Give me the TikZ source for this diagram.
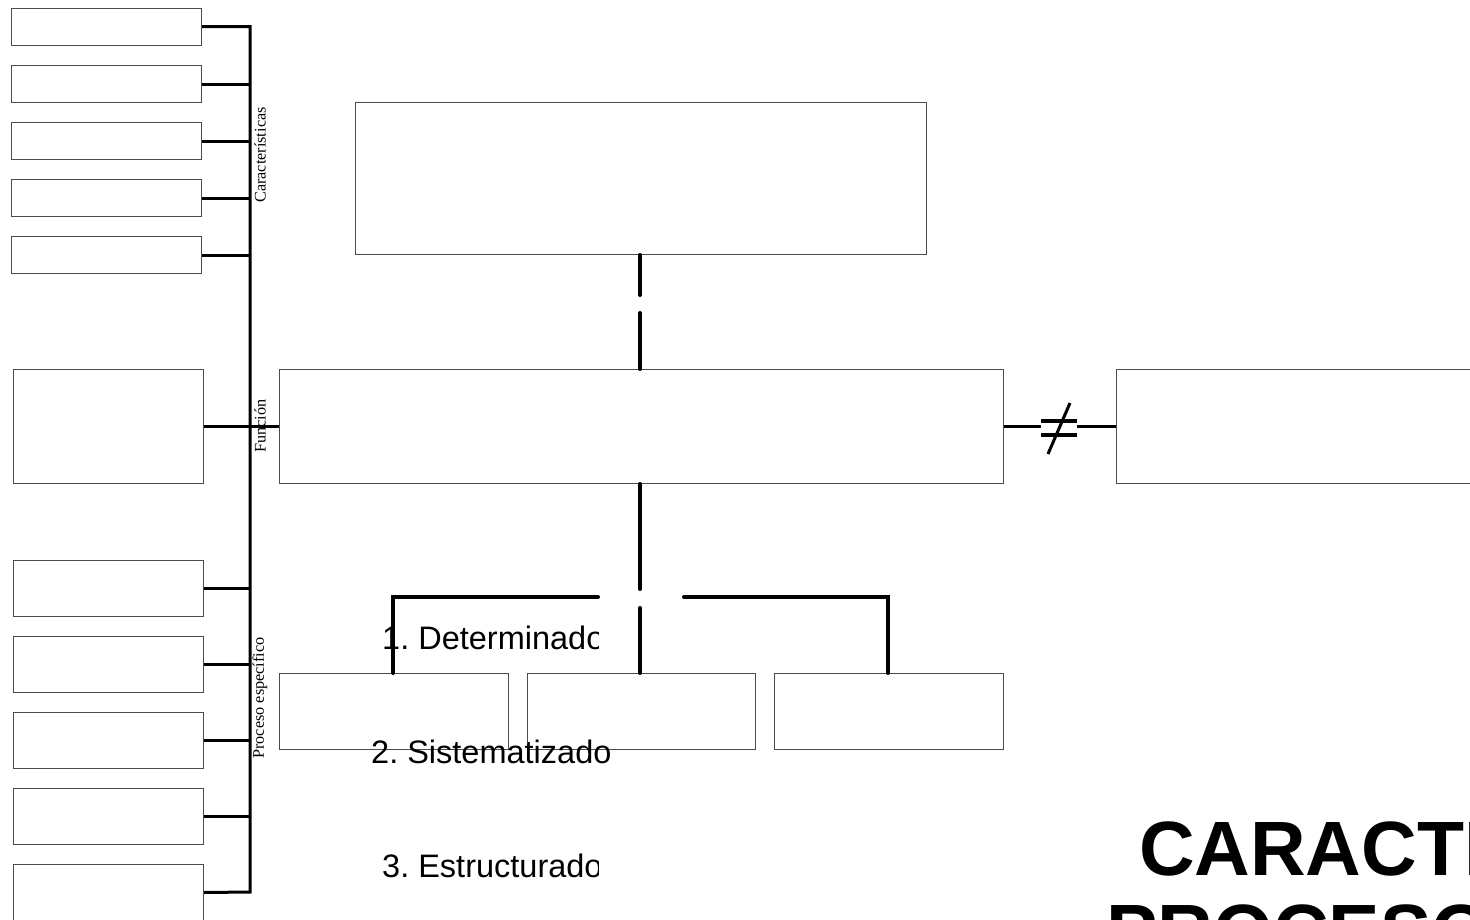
\documentclass[tikz,border=0pt]{standalone}
\usepackage{fontspec}
\setmainfont{Liberation Serif}
\newfontfamily\arialf{Liberation Sans}
\frenchspacing
\begin{document}
\begin{tikzpicture}[x=1pt,y=-1pt,
  box/.style={draw=black!70, line width=1pt, fill=white, anchor=north west, inner sep=0pt},
  sbox/.style={box, minimum width=190pt, minimum height=37pt},
  lbox/.style={box, minimum width=190pt, minimum height=56pt},
  conn/.style={line width=3pt, black},
  dconn/.style={line width=4pt, black, line cap=round},
  vlabel/.style={rotate=90, font=\fontsize{16.2}{18}\selectfont, inner sep=0pt},
  item/.style={font=\arialf\frenchspacing\fontsize{32.5}{38}\selectfont, inner sep=0pt, anchor=base west},
  ttl/.style={font=\arialf\bfseries\fontsize{77}{83}\selectfont, inner sep=0pt, anchor=base west}]
\useasboundingbox (0,0) rectangle (1470,919);
\fill[white] (0,0) rectangle (1470,919);

% top-left boxes (Caracteristicas)
\node[sbox] (c1) at (11,7.5) {};
\node[sbox] (c2) at (11,65) {};
\node[sbox] (c3) at (11,122) {};
\node[sbox] (c4) at (11,179) {};
\node[sbox] (c5) at (11,236) {};

% funcion box
\node[box, minimum width=190pt, minimum height=114pt] (fn) at (13,369) {};

% proceso especifico boxes
\node[lbox] (p1) at (13,560) {};
\node[lbox] (p2) at (13,636) {};
\node[lbox] (p3) at (13,712) {};
\node[lbox] (p4) at (13,788) {};
\node[lbox] (p5) at (13,864) {};

% spine
\coordinate (spbot) at (250,892);
\draw[conn, line join=miter] (c1.east) -| (spbot) -- (p5.east);
\foreach \n in {c2,c3,c4,c5,p1,p2,p3,p4} \draw[conn] (\n.east) -- (\n.east -| spbot);

% spine labels
\node[vlabel] (lc) at (260,155) {Características};
\node[vlabel] (lf) at (260,426) {Función};
\node[vlabel] (lp) at (260,698) {Proceso específico};

% central boxes
\node[box, minimum width=571pt, minimum height=152pt] (top) at (355,102) {};
\node[box, minimum width=724pt, minimum height=114pt] (main) at (279,369) {};
\node[box, minimum width=370pt, minimum height=114pt] (right) at (1116,369) {};
\node[box, minimum width=229pt, minimum height=76pt] (b1) at (279,673) {};
\node[box, minimum width=228pt, minimum height=76pt] (b2) at (527,673) {};
\node[box, minimum width=229pt, minimum height=76pt] (b3) at (774,673) {};

% funcion connector
\draw[conn] (fn.east) -- (main.west);

% dashed connectors
\draw[dconn, dash pattern=on 40pt off 18pt on 60pt off 100pt] (top.south -| 640,0) -- (main.north -| 640,0);
\draw[dconn, dash pattern=on 105pt off 19pt on 80pt off 100pt] (main.south -| 640,0) -- (b2.north -| 640,0);
\coordinate (hl) at (598,597);
\coordinate (hr) at (684,597);
\draw[dconn, line join=miter] (hl) -| (b1.north -| 393,0);
\draw[dconn, line join=miter] (hr) -| (b3.north -| 888,0);

% not-equal connector
\node[inner sep=0pt, minimum width=35pt, minimum height=53pt] (ne) at (1059,428) {};
\draw[conn] (main.east) -- (ne.west |- main.east);
\draw[conn] (ne.east |- right.west) -- (right.west);
\draw[line width=4.5pt] (ne.west |- 0,421) -- (ne.east |- 0,421);
\draw[line width=4.5pt] (ne.west |- 0,435) -- (ne.east |- 0,435);
\draw[line width=3pt] (1048,454) -- (1070,403);

% list items (clipped as printed)
\begin{scope}
\clip (300,600) rectangle (598,919);
\node[item] (t1) at (382,649) {1. Determinado};
\node[item] (t3) at (382,877) {3. Estructurado};
\end{scope}
\node[item] (t2) at (371,763) {2. Sistematizado};

% title
\node[ttl] (ti1) at (1139,875) {CARACTERÍSTICAS DEL};
\node[ttl] (ti2) at (1106,958) {PROCESOS};
\end{tikzpicture}
\end{document}
